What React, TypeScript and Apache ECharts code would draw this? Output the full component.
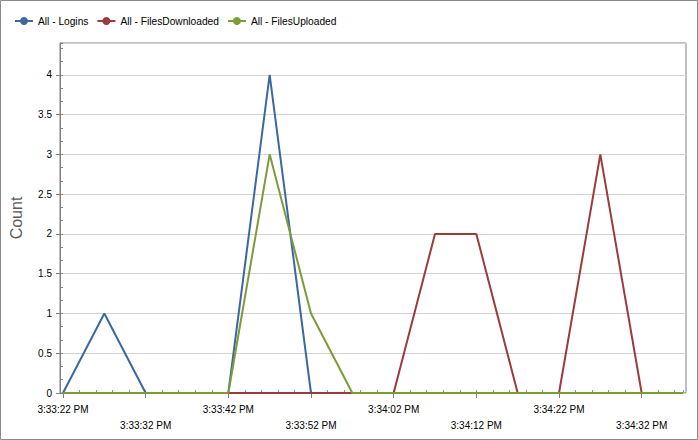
import React, { useEffect, useRef } from "react";
import * as echarts from "echarts";

// seconds after 3:33:22 PM, one sample every 5 s
const times = [0, 5, 10, 15, 20, 25, 30, 35, 40, 45, 50, 55, 60, 65, 70, 75];
const logins = [0, 1, 0, 0, 0, 4, 0, 0, 0, 0, 0, 0, 0, 0, 0, 0];
const filesDownloaded = [0, 0, 0, 0, 0, 0, 0, 0, 0, 2, 2, 0, 0, 3, 0, 0];
const filesUploaded = [0, 0, 0, 0, 0, 3, 1, 0, 0, 0, 0, 0, 0, 0, 0, 0];
const seriesNames = ["All - Logins", "All - FilesDownloaded", "All - FilesUploaded"];
const colors = ["#3C67A3", "#9C3B3B", "#7C9C3A"];
const baseH = 15, baseM = 33, baseS = 22;

const FONT = "Liberation Sans";

function fmtTime(sec: number): string {
  let total = baseH * 3600 + baseM * 60 + baseS + Math.round(sec);
  const h = Math.floor(total / 3600);
  const m = Math.floor((total % 3600) / 60);
  const s = total % 60;
  const h12 = h % 12 === 0 ? 12 : h % 12;
  const ap = h >= 12 ? "PM" : "AM";
  return `${h12}:${String(m).padStart(2, "0")}:${String(s).padStart(2, "0")} ${ap}`;
}

export default function App() {
  const ref = useRef<HTMLDivElement>(null);
  useEffect(() => {
    if (!ref.current) return;
    const chart = echarts.init(ref.current, undefined, { renderer: "svg" });
    const mk = (vals: number[]) => times.map((t, i) => [t, vals[i]]);
    const allSeries = [logins, filesDownloaded, filesUploaded].map((vals, i) => ({
      name: seriesNames[i],
      type: "line",
      xAxisIndex: 1,
      yAxisIndex: 1,
      data: mk(vals),
      symbol: "circle",
      symbolSize: 8,
      showSymbol: false,
      lineStyle: { width: 2, color: colors[i] },
      itemStyle: { color: colors[i] },
      z: 3 + i,
    }));
    chart.setOption({
      animation: false,
      color: colors,
      textStyle: { fontFamily: FONT },
      graphic: [
        {
          type: "rect",
          shape: { x: 0.5, y: 0.5, width: 697, height: 439 },
          style: { fill: "none", stroke: "#8a8a8a", lineWidth: 1 },
          silent: true,
        },
      ],
      legend: {
        left: 14,
        top: 16,
        padding: 0,
        itemWidth: 18,
        itemHeight: 10,
        itemGap: 8,
        textStyle: { fontSize: 10.2, color: "#000", fontFamily: FONT },
        data: seriesNames,
      },
      grid: [
        { left: 59, right: 12, top: 43, bottom: 47, show: true, borderColor: "#808080", borderWidth: 1, backgroundColor: "transparent" },
        { left: 63, right: 15, top: 43, bottom: 47 },
        { left: 63, right: 15, top: 43, bottom: 47 },
      ],
      xAxis: [
        { type: "value", gridIndex: 0, min: 0, max: 1, show: false },
        {
          type: "value",
          gridIndex: 1,
          position: "bottom",
          min: 0,
          max: 75,
          interval: 10,
          axisLine: { show: false },
          splitLine: { show: false },
          axisTick: { show: true, length: 5, lineStyle: { color: "#808080" } },
          axisLabel: {
            margin: 8,
            fontSize: 10,
            color: "#000",
            fontFamily: FONT,
            lineHeight: 16,
            showMaxLabel: false,
            formatter: (v: number) => {
              if (v % 10 !== 0) return "";
              const s = fmtTime(v);
              return (v / 10) % 2 === 1 ? "\n" + s : s;
            },
          },
        },
        {
          type: "value",
          gridIndex: 2,
          position: "bottom",
          min: 0,
          max: 75,
          interval: 2,
          axisLine: { show: false },
          splitLine: { show: false },
          axisLabel: { show: false },
          axisTick: { show: true, inside: true, length: 3, lineStyle: { color: "#909090" } },
        },
      ],
      yAxis: [
        {
          type: "value",
          gridIndex: 0,
          position: "left",
          min: 0,
          max: 4.4,
          interval: 0.5,
          name: "Count",
          nameLocation: "middle",
          nameGap: 36,
          nameTextStyle: { fontSize: 16, color: "#5a5a5a", fontFamily: FONT },
          axisLine: { show: true, lineStyle: { color: "#808080" } },
          axisTick: { show: true, length: 4, lineStyle: { color: "#808080" } },
          splitLine: { show: true, lineStyle: { color: "#d3d3d3", width: 1 } },
          axisLabel: { margin: 8, fontSize: 10, color: "#000", fontFamily: FONT, showMaxLabel: false },
        },
        {
          type: "value",
          gridIndex: 1,
          position: "left",
          offset: 4,
          min: 0,
          max: 4.4,
          interval: 1 / 6,
          axisLine: { show: false },
          splitLine: { show: false },
          axisLabel: { show: false },
          axisTick: { show: true, length: 3, lineStyle: { color: "#808080" } },
        },
        { type: "value", gridIndex: 2, min: 0, max: 4.4, show: false },
      ],
      series: allSeries,
    });
    return () => chart.dispose();
  }, []);
  return (
    <div
      ref={ref}
      style={{ position: "absolute", left: 0, top: 0, width: 698, height: 440 }}
    />
  );
}
